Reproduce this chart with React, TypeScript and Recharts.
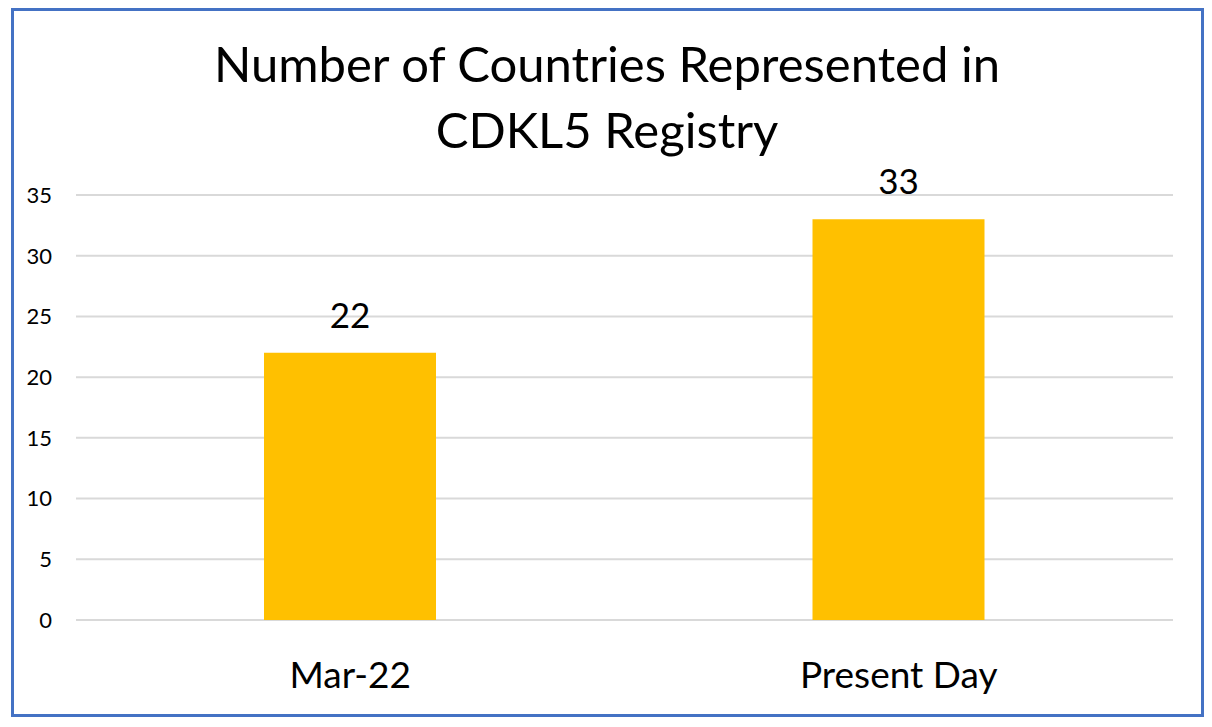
import React from 'react';
import { BarChart, Bar, XAxis, YAxis, CartesianGrid, LabelList } from 'recharts';

const categories = ['Mar-22', 'Present Day'];
const countries = [22, 33];
const yTicks = [0, 5, 10, 15, 20, 25, 30, 35];
const titleLines = ['Number of Countries Represented in', 'CDKL5 Registry'];

const data = categories.map((c, i) => ({ name: c, value: countries[i] }));

const FONT = 'Lato, "Open Sans", sans-serif';

export default function App() {
  return (
    <div style={{ position: 'absolute', left: 0, top: 0, width: 1212, height: 727, background: '#fff', fontFamily: FONT }}>
      <div
        style={{
          position: 'absolute',
          left: 11,
          top: 8,
          width: 1193,
          height: 709,
          border: '3px solid #4472C4',
          boxSizing: 'border-box',
        }}
      />
      <svg style={{ position: 'absolute', left: 0, top: 0 }} width={1212} height={160}>
        <text x={607} y={82} textAnchor="middle" fontSize={49} fill="#000" fontFamily={FONT}>
          {titleLines[0]}
        </text>
        <text x={607} y={148} textAnchor="middle" fontSize={49} fill="#000" fontFamily={FONT}>
          {titleLines[1]}
        </text>
      </svg>
      <div style={{ position: 'absolute', left: 0, top: 0 }}>
        <BarChart width={1212} height={727} data={data} margin={{ top: 195, right: 39, bottom: 77, left: 16 }}>
          <CartesianGrid vertical={false} stroke="#d9d9d9" strokeWidth={2} />
          <XAxis
            dataKey="name"
            height={30}
            axisLine={false}
            tickLine={false}
            tickSize={0}
            tickMargin={42}
            tick={{ fontSize: 37, fill: '#000', fontFamily: FONT }}
          />
          <YAxis
            width={60}
            domain={[0, 35]}
            ticks={yTicks}
            axisLine={false}
            tickLine={false}
            tickSize={0}
            tickMargin={24}
            tick={{ fontSize: 22, fill: '#000', fontFamily: FONT }}
          />
          <Bar dataKey="value" fill="#FFC000" barSize={172} isAnimationActive={false}>
            <LabelList dataKey="value" position="top" offset={25} fontSize={35} fill="#000" fontFamily={FONT} />
          </Bar>
        </BarChart>
      </div>
    </div>
  );
}
